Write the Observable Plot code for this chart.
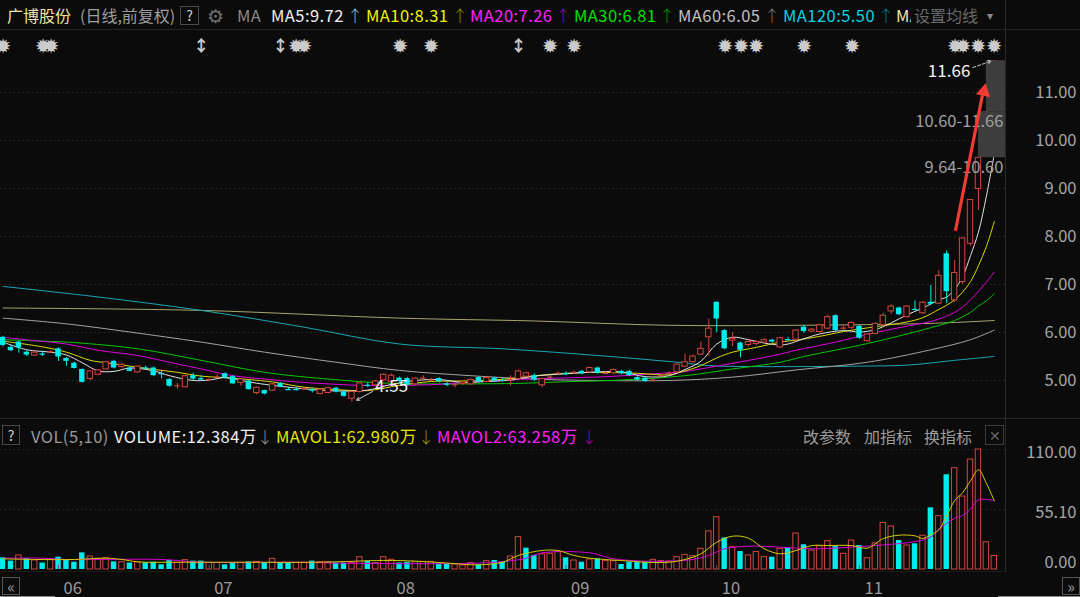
<!DOCTYPE html>
<html>
<head>
<meta charset="utf-8">
<script src="https://cdn.jsdelivr.net/npm/d3@7"></script>
<script src="https://cdn.jsdelivr.net/npm/@observablehq/plot@0.6"></script>
<style>
  html, body { margin:0; padding:0; background:#0b0b0b; }
  #root { position:relative; width:1080px; height:597px; overflow:hidden; background:#0b0b0b;
          font-family:"Noto Sans CJK SC","Noto Sans",sans-serif; }
  .t { position:absolute; white-space:nowrap; font-size:16px; line-height:20px; }
  .box { position:absolute; border:1px solid #4a4a4a; box-sizing:border-box; color:#d6d6d6;
         font-size:14px; text-align:center; }
  .ln { position:absolute; background:#262626; }
  .pane { position:absolute; left:0; }
</style>
</head>
<body>
<div id="root"></div>
<script>
// ---------------- data ----------------
const opens = [5.90,5.69,5.80,5.59,5.52,5.56,5.58,5.66,5.46,5.36,
5.23,5.03,5.12,5.23,5.40,5.28,5.26,5.17,5.27,5.26,
5.15,5.02,4.88,4.86,5.10,5.04,5.00,5.06,5.14,5.08,
4.95,4.99,4.74,4.79,4.79,4.94,4.83,4.82,4.83,4.81,
4.72,4.74,4.84,4.76,4.62,4.76,4.92,4.90,5.00,4.97,
5.05,5.04,4.92,5.05,5.00,5.04,4.93,4.90,4.93,4.92,
5.06,4.97,5.05,5.02,5.00,5.03,5.08,5.10,4.90,5.06,
5.14,5.15,5.16,5.19,5.17,5.26,5.14,5.15,5.19,5.19,
5.06,5.05,5.00,5.09,5.13,5.17,5.29,5.38,5.54,5.90,
6.63,6.04,5.83,5.78,5.74,5.76,5.79,5.84,5.69,5.86,
5.85,6.11,6.02,6.01,6.08,6.35,6.08,6.10,6.13,5.82,
5.97,6.15,6.44,6.51,6.32,6.50,6.40,6.63,6.60,7.64,
6.67,7.05,7.85,8.99,10.60,11.66];
const closes = [5.73,5.62,5.68,5.53,5.58,5.55,5.60,5.49,5.40,5.25,
4.96,5.19,5.21,5.38,5.26,5.33,5.19,5.29,5.26,5.10,
5.14,4.88,4.89,5.09,5.03,5.01,5.02,5.07,5.05,4.93,
5.02,4.81,4.85,4.72,4.92,4.87,4.81,4.81,4.83,4.80,
4.81,4.84,4.76,4.67,4.76,4.94,4.90,4.98,5.12,5.10,
4.98,4.90,5.04,5.05,5.01,4.97,4.90,4.91,4.96,5.01,
4.97,5.05,4.99,5.00,5.01,5.19,5.15,5.01,5.03,5.07,
5.15,5.12,5.17,5.14,5.26,5.15,5.15,5.22,5.14,5.10,
5.01,4.98,5.01,5.10,5.15,5.33,5.38,5.50,5.66,6.08,
6.28,5.66,5.87,5.63,5.80,5.80,5.84,5.80,5.88,5.85,
6.04,6.02,6.06,6.15,6.32,6.04,6.09,6.20,5.88,5.96,
6.18,6.35,6.54,6.37,6.54,6.48,6.62,6.59,7.18,6.85,
7.24,7.96,8.76,9.64,10.60,11.66];
const highs = [5.92,5.74,5.82,5.62,5.60,5.61,5.62,5.68,5.48,5.38,
5.24,5.20,5.23,5.40,5.42,5.36,5.28,5.31,5.30,5.28,
5.20,5.04,4.94,5.11,5.15,5.10,5.04,5.12,5.16,5.10,
5.03,5.00,4.87,4.80,4.94,4.96,4.86,4.86,4.86,4.83,
4.83,4.86,4.86,4.78,4.78,4.97,4.96,5.00,5.14,5.14,
5.07,5.06,5.06,5.10,5.05,5.06,4.97,4.95,4.98,5.03,
5.08,5.08,5.07,5.05,5.10,5.22,5.18,5.14,5.05,5.10,
5.18,5.18,5.20,5.21,5.28,5.28,5.19,5.24,5.21,5.21,
5.08,5.07,5.04,5.13,5.18,5.35,5.55,5.53,5.80,6.28,
6.64,6.06,6.00,5.80,5.85,5.83,5.87,5.86,5.90,5.90,
6.06,6.15,6.08,6.17,6.36,6.37,6.13,6.22,6.15,5.98,
6.20,6.40,6.58,6.53,6.56,6.66,6.65,6.98,7.29,7.70,
7.50,7.96,8.76,9.69,10.60,11.66];
const lows = [5.70,5.60,5.57,5.50,5.50,5.50,5.56,5.40,5.30,5.24,
4.95,5.00,5.10,5.22,5.24,5.26,5.18,5.15,5.22,5.08,
5.03,4.86,4.82,4.85,5.00,4.98,4.98,5.05,5.03,4.92,
4.88,4.80,4.70,4.70,4.77,4.85,4.79,4.78,4.80,4.74,
4.70,4.72,4.74,4.65,4.55,4.74,4.85,4.88,4.98,4.95,
4.96,4.88,4.90,5.00,4.97,4.95,4.87,4.85,4.90,4.90,
4.95,4.95,4.97,4.97,4.88,5.01,5.06,4.98,4.85,5.03,
5.12,5.10,5.13,5.12,5.15,5.13,5.12,5.13,5.12,5.08,
4.99,4.96,4.97,5.06,5.10,5.15,5.27,5.36,5.52,5.50,
6.00,5.64,5.70,5.47,5.70,5.72,5.76,5.78,5.67,5.82,
5.83,5.98,6.00,5.99,6.06,6.02,6.05,6.06,5.86,5.80,
5.95,6.13,6.38,6.35,6.30,6.45,6.38,6.57,6.58,6.60,
6.62,7.00,7.80,8.54,10.60,11.66];
// volume, 万手
const volumes = [10.7,7.7,12.9,10,8.3,5.9,8.9,11.3,8.3,6.7,
15.3,11.9,9.8,10.4,7,6.7,5.9,6.7,6.1,6.7,
4.3,8.3,6,8.6,7.7,7.7,6,6,4.3,6.1,
6,7,7,6.1,9.8,6.1,6.1,6,6,7.7,
6.7,6.7,5.9,5.9,5.9,11.3,7.7,5.9,11.3,8.9,
6,6.7,6.7,7,7,4.6,4.6,4.6,3.7,5.9,
4.3,7.7,8.3,6.7,11.9,29.7,19.6,12.9,14,14.4,
16,10.7,8.3,6.7,9.2,9.8,7.7,7.7,4.6,6.7,
6.7,6.7,8.9,7.7,7.3,11.3,13.5,12.2,19,35,
48,29,20.5,16.5,12.9,16,11.3,11.3,19,19.6,
33,22.7,17.4,21.4,26,21,14.4,26.6,22,10.4,
24,42.8,39.5,26.6,22,23.6,31,56.6,49,87,
93,67,101,110.2,25,12.384];
// volume bars drawn in cyan (down days)
const volCyan = [0,1,3,5,7,8,9,10,14,16,18,19,20,21,24,25,28,29,31,33,35,36,39,42,43,46,50,51,55,56,60,62,63,66,67,
71,73,75,78,79,80,81,91,93,97,99,101,105,108,113,115,117,119];

// moving averages: [day index, value]
const ma5Pts = [[0,5.80],[3,5.64],[6,5.59],[8,5.53],[10,5.37],[12,5.20],[14,5.19],[16,5.26],[19,5.20],[21,5.10],[24,5.00],[26,5.01],[28,5.06],[31,4.97],[33,4.92],[36,4.86],[40,4.80],[43,4.78],[46,4.80],[49,4.92],[52,5.00],[55,5.02],[58,4.96],[61,4.98],[64,5.01],[67,5.09],[70,5.13],[74,5.17],[78,5.18],[81,5.08],[84,5.10],[86,5.23],[88,5.40],[90,5.76],[92,5.90],[94,5.85],[96,5.78],[98,5.74],[99,5.76],[101,5.87],[103,5.97],[106,6.04],[108,6.01],[110,6.06],[112,6.20],[114,6.37],[116,6.51],[118,6.68],[119,6.74],[120,6.90],[121,7.16],[122,7.60],[123,8.09],[124,8.84],[125,9.72]];
const ma10Pts = [[0,5.82],[5,5.70],[8,5.59],[11,5.42],[13,5.37],[16,5.30],[19,5.23],[22,5.17],[25,5.09],[28,5.06],[31,5.02],[34,4.97],[38,4.86],[42,4.81],[46,4.79],[50,4.90],[54,4.98],[58,4.99],[62,5.01],[66,5.08],[70,5.14],[75,5.17],[80,5.15],[84,5.12],[86,5.20],[88,5.31],[90,5.47],[92,5.59],[95,5.69],[98,5.80],[100,5.84],[103,5.92],[106,6.02],[110,6.12],[114,6.22],[116,6.31],[118,6.48],[119,6.57],[120,6.68],[121,6.84],[122,7.06],[123,7.39],[124,7.79],[125,8.31]];
const ma20Pts = [[0,5.90],[4,5.83],[8,5.76],[12,5.63],[17,5.52],[21,5.38],[25,5.24],[29,5.10],[33,5.03],[37,4.97],[41,4.93],[45,4.90],[50,4.90],[55,4.92],[59,4.97],[63,5.00],[66,5.03],[70,5.05],[76,5.08],[82,5.14],[86,5.19],[90,5.30],[95,5.45],[98,5.55],[100,5.63],[105,5.80],[109,5.96],[113,6.10],[117,6.23],[118,6.28],[119,6.34],[120,6.42],[121,6.53],[122,6.68],[123,6.86],[124,7.05],[125,7.26]];
const ma30Pts = [[0,5.85],[5,5.82],[9,5.79],[17,5.66],[25,5.42],[33,5.17],[41,5.03],[49,4.94],[58,4.93],[65,4.94],[70,4.97],[78,5.01],[86,5.10],[92,5.24],[98,5.38],[101,5.50],[109,5.77],[117,6.10],[120,6.25],[122,6.42],[123,6.55],[124,6.66],[125,6.81]];
const ma60Pts = [[0,6.30],[8,6.18],[16,6.01],[25,5.80],[33,5.59],[42,5.38],[50,5.21],[59,5.10],[67,5.03],[75,5.00],[84,5.00],[92,5.07],[100,5.22],[109,5.38],[117,5.64],[122,5.85],[125,6.05]];
const ma120Pts = [[0,6.96],[12,6.74],[25,6.46],[38,6.11],[50,5.76],[63,5.66],[75,5.52],[85,5.38],[89,5.31],[94,5.29],[100,5.29],[108,5.30],[114,5.32],[120,5.42],[125,5.50]];
const ma250Pts = [[0,6.51],[25,6.46],[50,6.30],[67,6.24],[84,6.15],[100,6.15],[117,6.19],[125,6.25]];
const mavol1Pts = [[0,9.8],[4,9.2],[9,9.2],[13,10.4],[15,9.2],[17,7.0],[22,6.7],[30,6.7],[40,6.7],[48,8.3],[52,7.7],[56,5.9],[60,4.3],[63,6.7],[65,12.9],[68,17.5],[70,17.4],[72,12.9],[74,10.4],[79,7.7],[81,6.7],[84,6.7],[86,9.2],[88,14.4],[90,25],[92,30.6],[94,28.8],[96,19],[98,14.4],[100,17.4],[102,22],[104,22],[107,22],[109,19.6],[111,28.4],[113,31.5],[115,30.9],[116,28.5],[117,32],[118,36.4],[119,49.4],[120,63.3],[121,70.5],[122,81.5],[123,91.6],[124,79.2],[125,62.98]];
const mavol2Pts = [[0,10.4],[5,10.4],[8,9.2],[20,9.2],[25,6.7],[38,6.7],[42,5.9],[60,5.9],[64,8],[66,10.4],[68,15.3],[74,15.3],[77,9.8],[81,7.7],[84,7.7],[87,9.2],[89,12.9],[91,19],[94,21.4],[98,20.5],[102,19],[107,20.5],[111,22.6],[115,25.6],[117,29.9],[118,36.7],[120,47.1],[121,49.5],[122,55.7],[123,64],[124,64.3],[125,63.258]];

const priceTicks = [5, 6, 7, 8, 9, 10, 11];
const volTicks = [0, 55.10, 110.00];
const monthLabels = ["06", "07", "08", "09", "10", "11"];
const monthStart = [7, 26, 49, 71, 90, 108];
const markerIdx = [0, 5, 6, 25, 35, 37, 38, 50, 54, 65, 69, 72, 91, 93, 95, 101, 107, 120, 121, 123, 125];
const markerNarrow = [25, 35, 65];
const gapZones = [{from: 123, lo: 9.64, hi: 10.60}, {from: 124, lo: 10.60, hi: 11.66}];
const notes = [
  {text: "4.55", labelI: 49.0, labelP: 4.875, fromI: 46.6, fromP: 4.77, toI: 44.6, toP: 4.59, dashed: false},
  {text: "11.66", labelI: 119.3, labelP: 11.445, fromI: 122.3, fromP: 11.52, toI: 124.6, toP: 11.655, dashed: true}
];
const redArrow = [{x1: 120.1, y1: 8.12, x2: 123.5, y2: 10.94, hx: 123.69, hy: 11.02, rot: 11.8}];

// ---------------- layout constants ----------------
const X_END = 126.4;
const BG = "#0b0b0b", RED = "#d2473f", CYAN = "#00ecec";
const FONT = '"Noto Sans CJK SC","Noto Sans",sans-serif';
const root = document.getElementById("root");

function addText(txt, left, top, color, size = 16, extra = {}) {
  const el = document.createElement("div");
  el.className = "t";
  el.textContent = txt;
  Object.assign(el.style, {left: left + "px", top: top + "px", color, fontSize: size + "px"}, extra);
  root.appendChild(el);
  return el;
}
function addBox(txt, left, top, w, h, extra = {}) {
  const el = document.createElement("div");
  el.className = "box";
  el.textContent = txt;
  Object.assign(el.style, {left: left + "px", top: top + "px", width: w + "px", height: h + "px", lineHeight: (h - 2) + "px"}, extra);
  root.appendChild(el);
}
function addLine(left, top, w, h, color = "#262626") {
  const el = document.createElement("div");
  el.className = "ln";
  Object.assign(el.style, {left: left + "px", top: top + "px", width: w + "px", height: h + "px", background: color});
  root.appendChild(el);
}
const last = a => a[a.length - 1][1];
const LAT = {fontSize: "16.5px", letterSpacing: "0.45px"};

// ---------------- frame lines ----------------
addLine(0, 29, 1080, 1, "#222");
addLine(0, 418, 1080, 1, "#262626");
addLine(0, 571, 1005, 1, "#1c1c1c");
addLine(1005, 0, 1, 572, "#2a2a2a");
addLine(0, 596, 55, 1, "#8a8a8a");
addLine(998, 596, 82, 1, "#8a8a8a");

// ---------------- header ----------------
const HT = 5;
addText("广博股份", 7, HT, "#eee2a0");
addText("(日线,前复权)", 80, HT, "#9e9e9e");
addBox("?", 180, 6, 19, 19);
addText("⚙", 207, 3, "#707070", 19, {lineHeight: "24px"});
addText("MA", 237, HT, "#8a8a8a", 16, LAT);
const maHeader = [
  ["MA5", ma5Pts, 271, "#f0f0f0", 347, "#b8b8b8"],
  ["MA10", ma10Pts, 366, "#f2f200", 452, "#8f8f00"],
  ["MA20", ma20Pts, 470, "#ff20ff", 555, "#a000a0"],
  ["MA30", ma30Pts, 574, "#00e000", 659, "#00a000"],
  ["MA60", ma60Pts, 678, "#c2c2c2", 764, "#7c7c7c"],
  ["MA120", ma120Pts, 783, "#00d4e4", 878, "#007f8a"]
];
for (const [name, pts, x, col, ax, acol] of maHeader) {
  addText(`${name}:${last(pts).toFixed(2)}`, x, HT, col, 16, LAT);
  addText("↑", ax, HT, acol, 16, {fontWeight: 300});
}
addText(`MA250:${last(ma250Pts).toFixed(2)}`, 896, HT, "#f0e8a8", 16, {...LAT, width: "15px", overflow: "hidden"});
addText("设置均线", 914, HT, "#6a6a6a");
addText("▾", 987, HT, "#8a8a8a", 12);

// ---------------- volume header ----------------
const VT = 426;
addBox("?", 2, 425, 18, 20);
addText("VOL(5,10)", 31, VT, "#9a9a9a", 16, LAT);
addText(`VOLUME:${volumes[volumes.length - 1].toFixed(3)}万`, 114, VT, "#f0f0f0", 16, LAT);
addText("↓", 257, VT, "#9a9a9a", 16, {fontWeight: 300});
addText(`MAVOL1:${last(mavol1Pts).toFixed(3)}万`, 276, VT, "#e6e600", 16, LAT);
addText("↓", 418, VT, "#9a9a00", 16, {fontWeight: 300});
addText(`MAVOL2:${last(mavol2Pts).toFixed(3)}万`, 437, VT, "#ff20ff", 16, LAT);
addText("↓", 581, VT, "#a000a0", 16, {fontWeight: 300});
addText("改参数", 803, VT, "#9c9c9c");
addText("加指标", 864, VT, "#9c9c9c");
addText("换指标", 924, VT, "#9c9c9c");
addBox("✕", 985, 425, 19, 20, {color: "#666", borderColor: "#3c3c3c"});
addBox("«", 2, 577, 18, 18, {color: "#9a9a9a", borderColor: "#555", fontSize: "16px"});
addBox("»", 1062, 577, 18, 18, {color: "#9a9a9a", borderColor: "#555", fontSize: "16px"});

// ---------------- derived tables ----------------
const N = closes.length;
const candles = d3.range(N).map(i => ({i, o: opens[i], c: closes[i], h: highs[i], l: lows[i]}));
const isUp = d => d.c >= d.o;
const isDoji = d => Math.abs(d.c - d.o) < 0.025;
const colorOf = d => isUp(d) ? RED : CYAN;
const bw = 0.34;
const vols = volumes.map((v, i) => ({i, v, cyan: volCyan.includes(i)}));
const markers = markerIdx.map(i => ({i, narrow: markerNarrow.includes(i)}));
const xScale = {domain: [0, X_END], range: [2.5, 1004.9], axis: null};
const maSeries = [
  [ma250Pts, "#a9a56c"], [ma120Pts, "#1aa6b4"], [ma60Pts, "#a3a3a3"], [ma30Pts, "#00c800"],
  [ma20Pts, "#e000e0"], [ma10Pts, "#dcd800"], [ma5Pts, "#e2e2e2"]
];

// ---------------- price pane ----------------
const priceChart = Plot.plot({
  width: 1080, height: 389,
  marginTop: 0, marginRight: 75, marginBottom: 0, marginLeft: 0,
  style: {background: "transparent", fontFamily: FONT, overflow: "visible"},
  x: xScale,
  y: {domain: [5, 11], range: [351, 63], axis: null},
  color: {type: "identity"},
  marks: [
    Plot.ruleY(priceTicks, {stroke: "#2c2c2c", strokeDasharray: "1.5,3"}),
    Plot.text(priceTicks, {y: d => d, text: d => d.toFixed(2), frameAnchor: "right", textAnchor: "end", dx: 71, fill: "#a6a6a6", fontSize: 16.5}),
    Plot.text(markers, {x: "i", text: d => d.narrow ? "↕" : "✹", frameAnchor: "top", dy: 11, fill: "#cbcbcb", fontSize: 16.5, fontWeight: "bold"}),
    ...maSeries.map(([pts, col]) => Plot.line(pts, {x: d => d[0], y: d => d[1], stroke: col, strokeWidth: 1, curve: "catmull-rom"})),
    Plot.ruleX(candles, {x: "i", y1: "l", y2: "h", stroke: colorOf, strokeWidth: 1}),
    Plot.rect(candles.filter(d => !isDoji(d) && isUp(d)), {x1: d => d.i - bw, x2: d => d.i + bw, y1: "o", y2: "c", fill: BG, stroke: RED, strokeWidth: 1}),
    Plot.rect(candles.filter(d => !isDoji(d) && !isUp(d)), {x1: d => d.i - bw, x2: d => d.i + bw, y1: "o", y2: "c", fill: CYAN}),
    Plot.ruleY(candles.filter(isDoji), {y: "c", x1: d => d.i - bw, x2: d => d.i + bw, stroke: colorOf, strokeWidth: 1.2}),
    Plot.rect(gapZones, {x1: "from", x2: () => X_END, y1: "lo", y2: "hi", fill: "#3d3d3d"}),
    Plot.text(gapZones, {x: () => X_END, y: "lo", text: d => `${d.lo.toFixed(2)}-${d.hi.toFixed(2)}`, textAnchor: "end", dx: -2, dy: 10, fill: "#a2a2a2", fontSize: 16.5}),
    Plot.arrow(notes.filter(d => !d.dashed), {x1: "fromI", y1: "fromP", x2: "toI", y2: "toP", stroke: "#cfcfcf", strokeWidth: 1, headLength: 5}),
    Plot.arrow(notes.filter(d => d.dashed), {x1: "fromI", y1: "fromP", x2: "toI", y2: "toP", stroke: "#cfcfcf", strokeWidth: 1, headLength: 5, strokeDasharray: "3,2"}),
    Plot.text(notes, {x: "labelI", y: "labelP", text: "text", fill: "#f4f4f4", fontSize: 17}),
    Plot.link(redArrow, {x1: "x1", y1: "y1", x2: "x2", y2: "y2", stroke: "#f23b33", strokeWidth: 3.2}),
    Plot.dot(redArrow, {x: "hx", y: "hy", symbol: "triangle", r: 5.4, fill: "#f23b33", rotate: "rot"})
  ]
});
const pricePane = document.createElement("div");
pricePane.className = "pane";
pricePane.style.top = "29px";
pricePane.appendChild(priceChart);
root.appendChild(pricePane);

// ---------------- volume pane ----------------
const volChart = Plot.plot({
  width: 1080, height: 149,
  marginTop: 0, marginRight: 75, marginBottom: 28, marginLeft: 0,
  style: {background: "transparent", fontFamily: FONT, overflow: "visible"},
  x: xScale,
  y: {domain: [0, 110.2], range: [121, 1], axis: null},
  color: {type: "identity"},
  marks: [
    Plot.ruleY(volTicks.filter(d => d > 0), {stroke: "#2c2c2c", strokeDasharray: "1.5,3"}),
    Plot.text(volTicks.filter(d => d > 0), {y: d => d, text: d => d.toFixed(2), frameAnchor: "right", textAnchor: "end", dx: 71, dy: 3, fill: "#a6a6a6", fontSize: 16.5}),
    Plot.text(volTicks.filter(d => d === 0), {y: d => d, text: d => d.toFixed(2), frameAnchor: "right", textAnchor: "end", lineAnchor: "bottom", dx: 71, dy: -2, fill: "#a6a6a6", fontSize: 16.5}),
    Plot.rect(vols.filter(d => d.cyan), {x1: d => d.i - bw, x2: d => d.i + bw, y1: 0, y2: "v", fill: CYAN}),
    Plot.rect(vols.filter(d => !d.cyan), {x1: d => d.i - bw, x2: d => d.i + bw, y1: 0, y2: "v", fill: BG, stroke: RED, strokeWidth: 1}),
    Plot.line(mavol2Pts, {x: d => d[0], y: d => d[1], stroke: "#d800d8", strokeWidth: 1, curve: "catmull-rom"}),
    Plot.line(mavol1Pts, {x: d => d[0], y: d => d[1], stroke: "#d2cc00", strokeWidth: 1, curve: "catmull-rom"}),
    Plot.ruleX(monthStart, {x: d => d, insetTop: 117, stroke: "#5a5a5a"}),
    Plot.text(monthStart, {x: d => d, text: (d, k) => monthLabels[k], frameAnchor: "bottom", dy: 24, dx: 5, textAnchor: "start", fill: "#9c9c9c", fontSize: 16.5})
  ]
});
const volPane = document.createElement("div");
volPane.className = "pane";
volPane.style.top = "448px";
volPane.appendChild(volChart);
root.appendChild(volPane);
</script>
</body>
</html>
